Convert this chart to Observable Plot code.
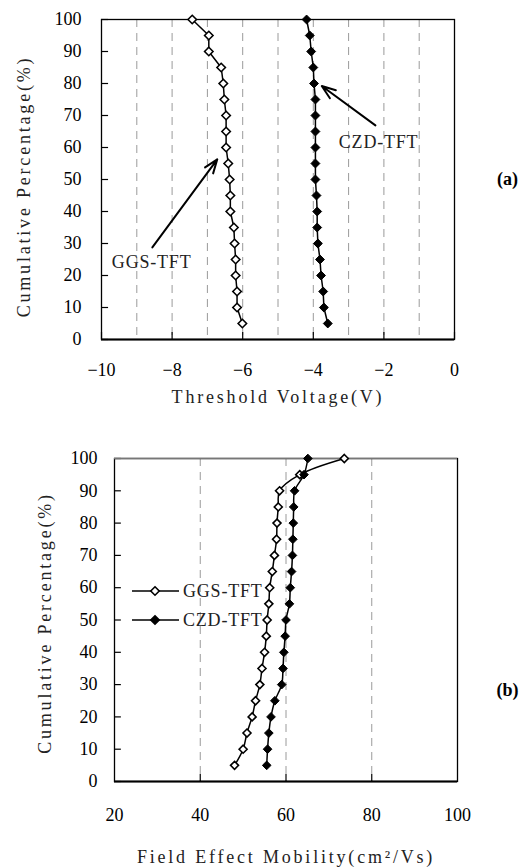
<!DOCTYPE html>
<html>
<head>
<meta charset="utf-8">
<script src="https://cdn.jsdelivr.net/npm/d3@7"></script>
<script src="https://cdn.jsdelivr.net/npm/@observablehq/plot@0.6"></script>
<style>
  html, body { margin: 0; padding: 0; background: white; }
  #chart > * { display: block; }
</style>
</head>
<body>
<div id="chart"></div>
<script>
// ---- data ----
const pctLevels = [100, 95, 90, 85, 80, 75, 70, 65, 60, 55, 50, 45, 40, 35, 30, 25, 20, 15, 10, 5];
const vthGGS = [-7.43, -6.96, -6.96, -6.61, -6.55, -6.52, -6.47, -6.47, -6.47, -6.41, -6.37, -6.35, -6.35, -6.25, -6.23, -6.20, -6.20, -6.16, -6.16, -6.01];
const vthCZD = [-4.19, -4.10, -4.06, -4.00, -3.98, -3.94, -3.94, -3.94, -3.94, -3.94, -3.94, -3.91, -3.89, -3.89, -3.87, -3.81, -3.78, -3.72, -3.70, -3.59];
const mobGGS = [73.6, 63.2, 58.5, 58.2, 57.9, 57.8, 57.3, 56.8, 56.2, 56.0, 55.6, 55.4, 55.0, 54.4, 53.9, 52.9, 52.1, 50.9, 50.0, 48.0];
const mobCZD = [65.1, 64.2, 62.0, 61.8, 61.7, 61.6, 61.5, 61.3, 61.0, 60.8, 60.0, 59.8, 59.5, 59.3, 59.0, 57.4, 56.5, 56.0, 55.7, 55.5];

const yTicks = [0, 10, 20, 30, 40, 50, 60, 70, 80, 90, 100];
const xTicksA = [-10, -8, -6, -4, -2, 0];
const gridA = [-9, -8, -7, -6, -5, -4, -3, -2, -1];
const xTicksB = [20, 40, 60, 80, 100];
const gridB = [40, 60, 80];

const seriesNames = ["GGS-TFT", "CZD-TFT"];
const titleA = "Threshold Voltage(V)";
const titleB = "Field Effect Mobility(cm²/Vs)";
const yTitle = "Cumulative Percentage(%)";

// annotation arrows (panel a), data units
const arrowsA = [
  {x1: -8.56, y1: 28.8, x2: -6.72, y2: 56.3},
  {x1: -2.24, y1: 66.9, x2: -3.76, y2: 79.2}
];
const labelsA = [
  {x: -8.58, y: 24.0, text: seriesNames[0]},
  {x: -2.15, y: 61.7, text: seriesNames[1]}
];

const tableA = pctLevels.map((p, i) => ({p, ggs: vthGGS[i], czd: vthCZD[i]}));
const tableB = pctLevels.map((p, i) => ({p, ggs: mobGGS[i], czd: mobCZD[i]}));

const serif = "Liberation Serif";
const gridStyle = {stroke: "#9a9a9a", strokeWidth: 1, strokeDasharray: "8,6"};
const titleStyle = {fontFamily: serif, fontSize: 18, fill: "#222", textAnchor: "middle", lineAnchor: "middle"};

// ---- panel (a) ----
const plotA = Plot.plot({
  width: 530, height: 420,
  marginLeft: 101, marginRight: 76, marginTop: 19, marginBottom: 81,
  style: {fontFamily: serif, fontSize: "18px", color: "black", background: "white", overflow: "visible"},
  x: {domain: [-10, 0]},
  y: {domain: [0, 100]},
  marks: [
    Plot.ruleX(gridA, gridStyle),
    Plot.ruleX(xTicksA, {x: d => d, y1: 0, y2: 2.2, stroke: "black", strokeWidth: 1.2}),
    Plot.ruleY(yTicks, {y: d => d, x1: -10, x2: -9.8, stroke: "black", strokeWidth: 1.2}),
    Plot.axisX(xTicksA, {tickSize: 0, tickPadding: 24, fontSize: 18, fontFamily: serif, label: null}),
    Plot.axisY(yTicks, {tickSize: 0, tickPadding: 20, fontSize: 18, fontFamily: serif, label: null}),
    Plot.frame({stroke: "black", strokeWidth: 1.3}),
    Plot.ruleY([0], {stroke: "black", strokeWidth: 2}),
    Plot.line(tableA, {x: "ggs", y: "p", stroke: "black", strokeWidth: 1.5}),
    Plot.line(tableA, {x: "czd", y: "p", stroke: "black", strokeWidth: 1.5}),
    Plot.dot(tableA, {x: "ggs", y: "p", symbol: "diamond2", r: 3.8, fill: "white", stroke: "black", strokeWidth: 1.6}),
    Plot.dot(tableA, {x: "czd", y: "p", symbol: "diamond2", r: 4, fill: "black", stroke: "black", strokeWidth: 1}),
    Plot.arrow(arrowsA, {x1: "x1", y1: "y1", x2: "x2", y2: "y2", stroke: "black", strokeWidth: 2, headLength: 11, headAngle: 40}),
    Plot.text(labelsA, {x: "x", y: "y", text: "text", fontFamily: serif, fontSize: 18, fill: "#222"}),
    Plot.text([titleA], {...titleStyle, frameAnchor: "bottom", dy: 58}),
    Plot.text([yTitle], {...titleStyle, frameAnchor: "left", dx: -77, dy: 7, rotate: -90}),
    Plot.text(["(a)"], {frameAnchor: "right", textAnchor: "middle", dx: 53, dy: 0, fontFamily: serif, fontWeight: "bold", fontSize: 18, fill: "black"})
  ]
});

// ---- panel (b) ----
const plotB = Plot.plot({
  width: 530, height: 447,
  marginLeft: 114, marginRight: 73, marginTop: 38, marginBottom: 86,
  style: {fontFamily: serif, fontSize: "18px", color: "black", background: "white", overflow: "visible"},
  x: {domain: [20, 100]},
  y: {domain: [0, 100]},
  marks: [
    Plot.ruleX(gridB, gridStyle),
    Plot.ruleX(gridB, {x: d => d, y1: 0, y2: 2.2, stroke: "black", strokeWidth: 1.2}),
    Plot.ruleY(yTicks, {y: d => d, x1: 20, x2: 21.6, stroke: "black", strokeWidth: 1.2}),
    Plot.axisX(xTicksB, {tickSize: 0, tickPadding: 27, fontSize: 18, fontFamily: serif, label: null}),
    Plot.axisY(yTicks, {tickSize: 0, tickPadding: 17, fontSize: 18, fontFamily: serif, label: null}),
    Plot.frame({stroke: "black", strokeWidth: 1.3}),
    Plot.ruleY([100], {stroke: "#777", strokeWidth: 1.5}),
    Plot.ruleY([0], {stroke: "black", strokeWidth: 2.2}),
    Plot.line(tableB, {x: "ggs", y: "p", stroke: "black", strokeWidth: 1.5, curve: "catmull-rom"}),
    Plot.line(tableB, {x: "czd", y: "p", stroke: "black", strokeWidth: 1.5, curve: "catmull-rom"}),
    Plot.dot(tableB, {x: "ggs", y: "p", symbol: "diamond2", r: 3.6, fill: "white", stroke: "black", strokeWidth: 1.6}),
    Plot.dot(tableB, {x: "czd", y: "p", symbol: "diamond2", r: 3.9, fill: "black", stroke: "black", strokeWidth: 1}),
    Plot.text([titleB], {...titleStyle, frameAnchor: "bottom", dy: 76}),
    Plot.text([yTitle], {...titleStyle, frameAnchor: "left", dx: -69, dy: 3, rotate: -90}),
    Plot.text(["(b)"], {frameAnchor: "right", textAnchor: "middle", dx: 50, dy: 70, fontFamily: serif, fontWeight: "bold", fontSize: 18, fill: "black"})
  ]
});

// legend for panel (b)
{
  const svg = d3.select(plotB);
  const g = svg.append("g").attr("class", "legend");
  const items = [
    {name: seriesNames[0], fill: "white", yy: 171},
    {name: seriesNames[1], fill: "black", yy: 200}
  ];
  const sym = d3.symbol(d3.symbolDiamond2, Math.PI * 3.8 * 3.8);
  items.forEach(it => {
    g.append("line").attr("x1", 132).attr("x2", 179).attr("y1", it.yy).attr("y2", it.yy)
      .attr("stroke", "black").attr("stroke-width", 1.5);
    g.append("path").attr("d", sym()).attr("transform", `translate(155,${it.yy})`)
      .attr("fill", it.fill).attr("stroke", "black").attr("stroke-width", 1.6);
    g.append("text").attr("x", 183).attr("y", it.yy).attr("dy", "0.35em")
      .attr("text-anchor", "start")
      .attr("font-family", serif).attr("font-size", 18).attr("fill", "#222").text(it.name);
  });
}

// widen spacing of titles/labels (reference uses a wide fixed-pitch face)
const titleSet = new Set([titleA, titleB, yTitle]);
const labelSet = new Set(seriesNames);
[plotA, plotB].forEach(p => {
  d3.select(p).selectAll("text").each(function() {
    const t = this.textContent;
    if (titleSet.has(t)) this.setAttribute("letter-spacing", "2.8");
    else if (labelSet.has(t)) this.setAttribute("letter-spacing", "0.8");
  });
});

const chart = document.getElementById("chart");
chart.appendChild(plotA);
chart.appendChild(plotB);
</script>
</body>
</html>
